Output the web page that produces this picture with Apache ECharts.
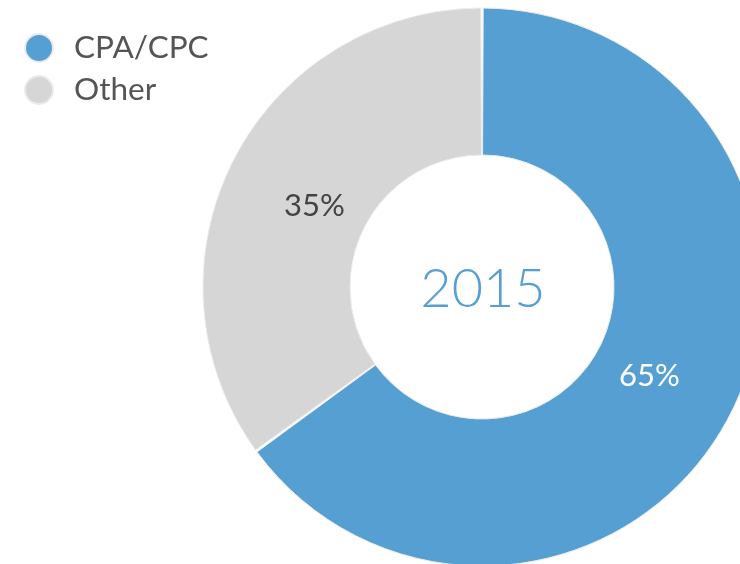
<!DOCTYPE html>
<html>
<head>
<meta charset="utf-8">
<script src="https://cdn.jsdelivr.net/npm/echarts@6/dist/echarts.min.js"></script>
<style>
html, body { margin: 0; padding: 0; background: #fff; }
#chart { width: 740px; height: 564px; }
</style>
</head>
<body>
<div id="chart"></div>
<script>
// data
const names = ['CPA/CPC', 'Other'];
const values = [65, 35];
const colors = ['#569fd3', '#d6d6d6'];
const labelColors = ['#ffffff', '#444444'];
const centerText = '2015';

let chart = echarts.init(document.getElementById('chart'));

let pieData = names.map(function (n, i) {
    return { name: n, value: values[i], itemStyle: { color: colors[i] } };
});
// same slices, no fill, only to put the labels a bit closer to the middle
let labelData = names.map(function (n, i) {
    return {
        name: n, value: values[i],
        itemStyle: { color: 'rgba(0,0,0,0)', borderWidth: 0 },
        label: { color: labelColors[i] }
    };
});

let option = {
    animation: false,
    textStyle: { fontFamily: 'Lato' },
    legend: {
        orient: 'vertical',
        left: 19,
        top: 27,
        icon: 'circle',
        itemWidth: 28,
        itemHeight: 28,
        itemGap: 10,
        data: names,
        textStyle: {
            fontSize: 31.5,
            color: '#555',
            fontFamily: 'Lato',
            padding: [0, 0, 0, 16]
        }
    },
    graphic: [{
        type: 'text',
        x: 483,
        y: 290,
        style: {
            text: centerText,
            fontFamily: 'Lato',
            fontWeight: 300,
            fontSize: 54,
            fill: '#569fd3',
            align: 'center',
            verticalAlign: 'middle'
        }
    }],
    series: [{
        name: 'share',
        type: 'pie',
        center: [482, 287],
        radius: [132, 279],
        startAngle: 90,
        padAngle: 0.5,
        itemStyle: { borderColor: '#ebebeb', borderWidth: 1 },
        label: { show: false },
        labelLine: { show: false },
        emphasis: { disabled: true },
        data: pieData
    }, {
        name: 'labels',
        type: 'pie',
        center: [482, 291],
        radius: [133, 237],
        startAngle: 90,
        silent: true,
        legendHoverLink: false,
        label: {
            show: true,
            position: 'inside',
            formatter: '{d}%',
            fontSize: 31,
            fontFamily: 'Lato'
        },
        labelLine: { show: false },
        data: labelData
    }]
};
chart.setOption(option);
</script>
</body>
</html>
